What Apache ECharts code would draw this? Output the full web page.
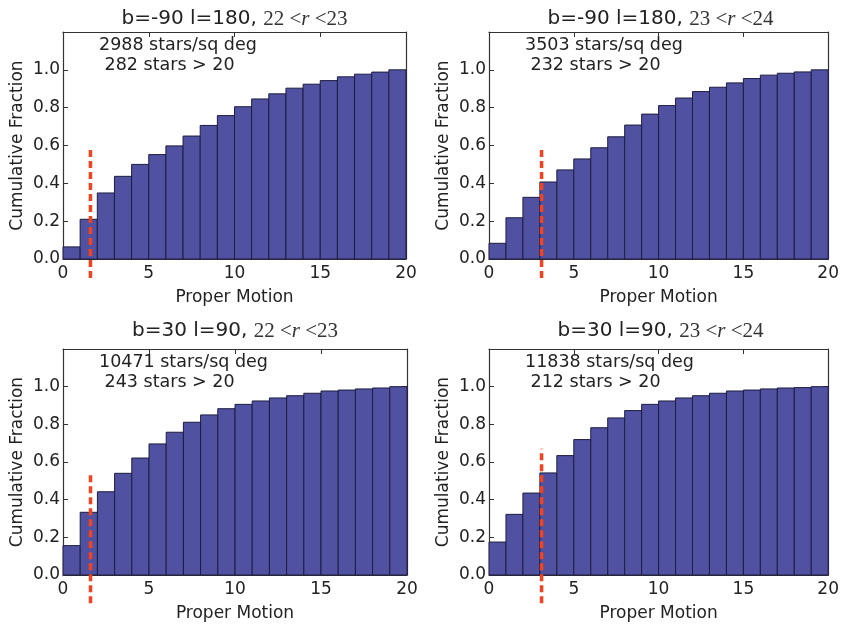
<!DOCTYPE html>
<html>
<head>
<meta charset="utf-8">
<script src="https://cdn.jsdelivr.net/npm/echarts@6/dist/echarts.min.js"></script>
<style>html,body{margin:0;padding:0;background:#fff;}#c{width:842px;height:625px;}</style>
</head>
<body>
<div id="c"></div>
<script>
// ---- data ----
const binEdges = [0,1,2,3,4,5,6,7,8,9,10,11,12,13,14,15,16,17,18,19,20];
const fracA = [0.064,0.210,0.349,0.437,0.500,0.552,0.598,0.650,0.706,0.758,0.805,0.846,0.873,0.903,0.924,0.943,0.963,0.977,0.988,1.000];
const fracB = [0.083,0.218,0.326,0.407,0.471,0.529,0.588,0.646,0.708,0.766,0.811,0.851,0.885,0.908,0.931,0.954,0.972,0.982,0.989,1.000];
const fracC = [0.156,0.333,0.442,0.540,0.621,0.696,0.758,0.811,0.850,0.883,0.906,0.924,0.940,0.952,0.965,0.977,0.982,0.988,0.993,1.000];
const fracD = [0.175,0.322,0.435,0.542,0.634,0.719,0.782,0.834,0.873,0.906,0.924,0.940,0.952,0.965,0.977,0.982,0.988,0.993,0.995,1.000];
const cutX = [1.6, 3.1, 1.6, 3.1];
const cutY = [[-0.10,0.59],[-0.10,0.59],[-0.15,0.55],[-0.15,0.67]];
const titlesMain = ['b=-90 l=180, ', 'b=-90 l=180, ', 'b=30 l=90, ', 'b=30 l=90, '];
const titlesMag = [['22','23'],['23','24'],['22','23'],['23','24']];
const densityText = ['2988 stars/sq deg','3503 stars/sq deg','10471 stars/sq deg','11838 stars/sq deg'];
const countText = [' 282 stars > 20',' 232 stars > 20',' 243 stars > 20',' 212 stars > 20'];
const yTicks = [0,0.2,0.4,0.6,0.8,1.0];
const xTicks = [0,5,10,15,20];
const xName = 'Proper Motion';
const yName = 'Cumulative Fraction';
const allFrac = [fracA, fracB, fracC, fracD];

// ---- layout ----
const grids = [
  {left:63, top:32, width:343, height:227},
  {left:489, top:32, width:343, height:227},
  {left:63, top:349, width:344, height:226},
  {left:489, top:349, width:343, height:226}
];
const titleY = [19, 19, 331, 331];
const txtCol = '#222';
const frameCol = '#333';
const font = 'DejaVu Sans';

const xAxes = [], yAxes = [], series = [], graphics = [];
grids.forEach((g, i) => {
  const base = {gridIndex:i, type:'value', min:0, max:20, interval:5,
    axisLine:{show:true, onZero:false, lineStyle:{color:frameCol, width:1.2}},
    axisTick:{show:true, inside:true, length:5, lineStyle:{color:frameCol}},
    splitLine:{show:false}};
  xAxes.push(Object.assign({}, base, {position:'bottom',
    name:xName, nameLocation:'middle', nameGap:30,
    nameTextStyle:{fontFamily:font, fontSize:17, color:txtCol},
    axisLabel:{show:true, fontFamily:font, fontSize:17, color:txtCol, margin:6,
      formatter: v => xTicks.includes(v) ? String(v) : ''}}));
  xAxes.push(Object.assign({}, base, {position:'top', axisLabel:{show:false}}));
  const ybase = {gridIndex:i, type:'value', min:0, max:1.2, interval:0.2,
    axisLine:{show:true, onZero:false, lineStyle:{color:frameCol, width:1.2}},
    axisTick:{show:true, inside:true, length:5, lineStyle:{color:frameCol}},
    splitLine:{show:false}};
  yAxes.push(Object.assign({}, ybase, {position:'left',
    name:yName, nameLocation:'middle', nameGap:37, nameRotate:90,
    nameTextStyle:{fontFamily:font, fontSize:17, color:txtCol},
    axisLabel:{show:true, fontFamily:font, fontSize:17, color:txtCol, margin:3,
      formatter: v => yTicks.some(t => Math.abs(t - v) < 1e-6) ? v.toFixed(1) : ''}}));
  yAxes.push(Object.assign({}, ybase, {position:'right', axisLabel:{show:false}}));

  const fr = allFrac[i];
  const data = fr.map((v, k) => [binEdges[k], binEdges[k+1], v]);
  series.push({
    type:'custom', xAxisIndex:2*i, yAxisIndex:2*i,
    data:data,
    renderItem:(params, api) => {
      const p0 = api.coord([api.value(0), api.value(2)]);
      const p1 = api.coord([api.value(1), 0]);
      return {type:'rect', shape:{x:p0[0], y:p0[1], width:p1[0]-p0[0], height:p1[1]-p0[1]},
        style:{fill:'#5151a2', stroke:'#1d1d40', lineWidth:1}};
    },
    z:2
  });
  series.push({
    type:'line', xAxisIndex:2*i, yAxisIndex:2*i, clip:false, symbol:'none', silent:true,
    data:[[cutX[i], cutY[i][0]],[cutX[i], cutY[i][1]]],
    lineStyle:{color:'#f2421f', width:3.5, type:[7,4]},
    z:5
  });

  const cx = g.left + g.width/2;
  graphics.push({type:'text', x:cx, y:titleY[i], style:{
    text:'{a|' + titlesMain[i] + '}{m|' + titlesMag[i][0] + ' <}{r|r}{m| <' + titlesMag[i][1] + '}',
    align:'center', verticalAlign:'middle',
    rich:{
      a:{fontFamily:font, fontSize:20, fill:txtCol, color:txtCol},
      m:{fontFamily:'Liberation Serif', fontSize:21, fill:'#333', color:'#333'},
      r:{fontFamily:'Liberation Serif', fontStyle:'italic', fontSize:21, fill:'#333', color:'#333'}
    }}});
  graphics.push({type:'text', x:g.left + 36, y:g.top + 13, style:{
    text:densityText[i], fontFamily:font, fontSize:17.5, fill:txtCol,
    align:'left', verticalAlign:'middle'}});
  graphics.push({type:'text', x:g.left + 36, y:g.top + 33, style:{
    text:countText[i], fontFamily:font, fontSize:17.5, fill:txtCol,
    align:'left', verticalAlign:'middle'}});
});

const chart = echarts.init(document.getElementById('c'), null, {renderer:'canvas'});
chart.setOption({
  backgroundColor:'#fff',
  animation:false,
  grid:grids,
  xAxis:xAxes,
  yAxis:yAxes,
  series:series,
  graphic:graphics
});
</script>
</body>
</html>
